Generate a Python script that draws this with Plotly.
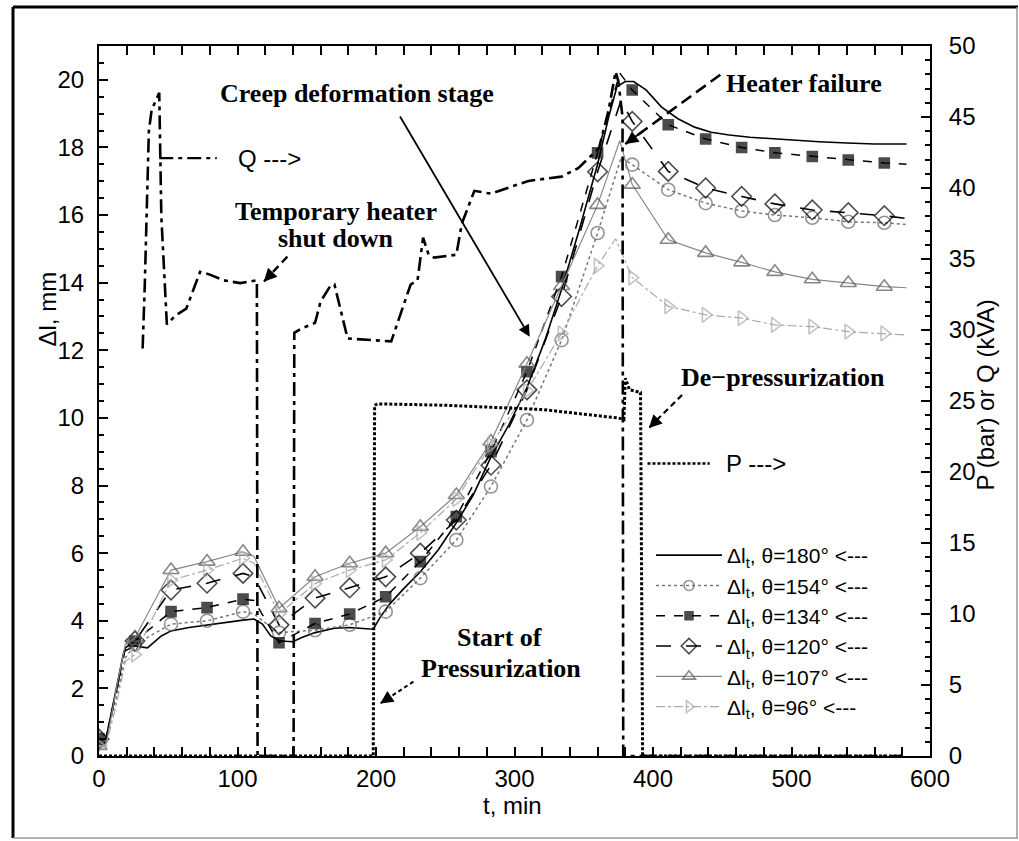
import plotly.graph_objects as go

# ---------------- data ----------------
T_180 = [0, 5, 12, 18, 26, 35, 45, 52, 65, 78, 92, 104, 112, 118, 124, 131, 140, 146, 156, 170,
         181, 190, 198, 203, 210, 220, 232, 245, 258, 270, 283, 296, 309, 322, 334, 347, 360,
         368, 374, 380, 386, 395, 406, 418, 430, 442, 455, 470, 488, 503, 520, 540, 560, 583]
V_180 = [0.45, 0.5, 1.9, 3.1, 3.25, 3.2, 3.55, 3.7, 3.8, 3.88, 3.95, 4.02, 4.05, 3.9, 3.55, 3.4,
         3.38, 3.5, 3.65, 3.78, 3.8, 3.77, 3.75, 4.1, 4.5, 4.95, 5.45, 6.1, 6.9, 7.7, 8.85, 9.8,
         10.9, 12.3, 13.8, 15.6, 17.5, 18.9, 19.8, 19.95, 19.95, 19.7, 19.2, 18.85, 18.6, 18.45,
         18.37, 18.3, 18.25, 18.2, 18.17, 18.13, 18.1, 18.1]

# marker sample times (shared by the marked series)
T_MK = [0, 26, 52, 78, 104, 130, 156, 181, 207, 232, 258, 283, 309, 334, 360, 385, 411, 438,
        464, 488, 515, 541, 567]
V_154 = [0.5, 3.3, 3.9, 4.0, 4.27, 3.65, 3.72, 3.88, 4.27, 5.26, 6.39, 7.97, 9.94, 12.3, 15.47,
         17.49, 16.75, 16.35, 16.12, 16.0, 15.92, 15.8, 15.77]
V_134 = [0.5, 3.4, 4.27, 4.39, 4.64, 3.35, 3.92, 4.2, 4.71, 5.75, 7.08, 9.0, 11.37, 14.18, 17.84,
         19.7, 18.67, 18.25, 18.0, 17.84, 17.73, 17.63, 17.54]
V_120 = [0.5, 3.4, 4.91, 5.11, 5.4, 3.88, 4.67, 4.97, 5.3, 6.0, 6.98, 8.6, 10.83, 13.59, 17.28,
         18.77, 17.29, 16.8, 16.55, 16.33, 16.15, 16.07, 15.98]
V_107 = [0.3, 3.5, 5.5, 5.75, 6.04, 4.37, 5.3, 5.7, 6.0, 6.78, 7.72, 9.3, 11.6, 13.9, 16.3,
         16.9, 15.27, 14.88, 14.6, 14.32, 14.1, 13.99, 13.88]
V_96 = [0.3, 3.0, 5.2, 5.5, 5.85, 4.2, 5.1, 5.5, 5.8, 6.6, 7.6, 9.2, 10.8, 12.5, 14.5,
        14.15, 13.3, 13.05, 12.95, 12.75, 12.7, 12.55, 12.5]

# extra line-only points (between markers)
T_EX_154 = [5, 13, 19, 112, 118, 377, 583]
V_EX_154 = [0.5, 1.8, 2.9, 4.2, 4.0, 17.7, 15.72]
T_EX_134 = [5, 13, 19, 112, 376, 583]
V_EX_134 = [0.5, 2.0, 3.2, 4.6, 20.2, 17.5]
T_EX_120 = [5, 13, 19, 112, 377, 583]
V_EX_120 = [0.5, 2.0, 3.2, 5.3, 19.4, 15.9]
T_EX_107 = [5, 13, 19, 112, 376, 583]
V_EX_107 = [0.3, 2.1, 3.3, 5.9, 18.2, 13.85]
T_EX_96 = [5, 13, 19, 112, 373, 583]
V_EX_96 = [0.3, 1.6, 2.8, 5.7, 15.3, 12.45]

# heater power Q (kVA) and pressure P (bar), right axis
T_Q = [31.5, 33, 36, 38, 43.5, 45, 49, 55, 63, 73, 80, 90, 102, 114, 114.5, 140.5, 141, 146, 156,
       160, 167, 170, 179.5, 211, 225, 230, 234, 238, 242, 258, 262, 271, 283, 295, 310, 334, 346,
       361, 368, 373, 375, 378, 378.5, 580]
V_Q = [28.7, 33, 44, 45.5, 46.7, 38, 30.4, 31.0, 31.5, 34.1, 33.9, 33.5, 33.3, 33.5, 0, 0, 29.8,
       30.1, 30.5, 32, 33.1, 33.2, 29.4, 29.2, 33.2, 33.5, 36.5, 35.3, 35.1, 35.3, 37.5, 39.8, 39.6,
       40.0, 40.5, 40.8, 41.4, 42.8, 45.5, 48.2, 47.5, 45, 0, 0]
T_P = [0, 198, 199, 201, 250, 320, 375, 379, 380, 383, 391, 392.5, 580]
V_P = [0, 0, 24.7, 24.8, 24.7, 24.4, 23.8, 23.7, 26.6, 25.8, 25.6, 0, 0]

X_TICKS = [0, 100, 200, 300, 400, 500, 600]
Y_TICKS = [0, 2, 4, 6, 8, 10, 12, 14, 16, 18, 20]
Y2_TICKS = [0, 5, 10, 15, 20, 25, 30, 35, 40, 45, 50]

LEG = ["Δl<sub>t</sub>, θ=180° <---", "Δl<sub>t</sub>, θ=154° <---", "Δl<sub>t</sub>, θ=134° <---",
       "Δl<sub>t</sub>, θ=120° <---", "Δl<sub>t</sub>, θ=107° <---", "Δl<sub>t</sub>, θ=96° <---"]

# ---------------- figure ----------------
W, H = 1019, 841
L, R, T, B = 99, 89, 46, 85
PW, PH = W - L - R, H - T - B


def px(x):
    return (x - L) / PW


def py(y):
    return (H - B - y) / PH


SANS = "Liberation Sans"
SERIF = "Liberation Serif"

fig = go.Figure()


def merged(tm, vm, te, ve, size):
    pts = [(t, v, size) for t, v in zip(tm, vm)] + [(t, v, 0) for t, v in zip(te, ve)]
    pts.sort(key=lambda p: p[0])
    return [p[0] for p in pts], [p[1] for p in pts], [p[2] for p in pts]


# Q and P first (under the data curves)
fig.add_trace(go.Scatter(x=T_Q, y=V_Q, yaxis="y2", mode="lines", showlegend=False,
                         line=dict(color="black", width=2.6, dash="14px,5px,4px,5px")))
fig.add_trace(go.Scatter(x=T_P, y=V_P, yaxis="y2", mode="lines", showlegend=False,
                         line=dict(color="black", width=3, dash="3px,2px")))

fig.add_trace(go.Scatter(x=T_180, y=V_180, mode="lines", name=LEG[0],
                         line=dict(color="black", width=1.6)))

series = [
    (V_154, T_EX_154, V_EX_154, LEG[1], "circle-open", 13, "#666666",
     dict(color="#777777", width=1.5, dash="dot")),
    (V_134, T_EX_134, V_EX_134, LEG[2], "square", 10, "black",
     dict(color="black", width=1.5, dash="dash")),
    (V_120, T_EX_120, V_EX_120, LEG[3], "diamond-open", 15, "black",
     dict(color="black", width=1.6, dash="longdash")),
    (V_107, T_EX_107, V_EX_107, LEG[4], "triangle-up-open", 14, "#555555",
     dict(color="#888888", width=1.2)),
    (V_96, T_EX_96, V_EX_96, LEG[5], "triangle-right-open", 13, "#aaaaaa",
     dict(color="#aaaaaa", width=1.2, dash="dashdot")),
]
for vm, te, ve, name, sym, sz, mc, ln in series:
    xs, ys, ss = merged(T_MK, vm, te, ve, sz)
    fig.add_trace(go.Scatter(x=xs, y=ys, mode="lines+markers", name=name, line=ln,
                             marker=dict(symbol=sym, size=ss, color=mc,
                                         line=dict(color=mc, width=1.6))))

# ---------------- annotations ----------------
ann = []
shapes = []
BSIZE = 26


def bold(text, x, y, xanchor="center", size=BSIZE):
    ann.append(dict(text="<b>" + text + "</b>", x=x, y=y, xref="x", yref="y", showarrow=False,
                    xanchor=xanchor, yanchor="middle",
                    font=dict(family=SERIF, size=size, color="black")))


def dashed_arrow(x0, y0, x1, y1, width=2.4, dash="8px,5px"):
    shapes.append(dict(type="line", xref="x", yref="y", x0=x0, y0=y0, x1=x1, y1=y1,
                       line=dict(color="black", width=width, dash=dash)))
    ann.append(dict(text="", x=x1, y=y1, ax=x1 + (x0 - x1) * 0.2, ay=y1 + (y0 - y1) * 0.2,
                    xref="x", yref="y", axref="x", ayref="y", showarrow=True,
                    arrowhead=2, arrowsize=1.3, arrowwidth=2, arrowcolor="black"))


bold("Creep deformation stage", 186, 19.6)
ann.append(dict(text="", x=311, y=12.4, ax=216.7, ay=18.96, xref="x", yref="y", axref="x",
                ayref="y", showarrow=True, arrowhead=2, arrowsize=1.3, arrowwidth=1.8,
                arrowcolor="black"))
bold("Heater failure", 509, 19.9)
dashed_arrow(448.6, 20.15, 380, 18.1, width=2.6, dash="12px,6px")
bold("Temporary heater", 171, 16.1)
bold("shut down", 171, 15.3)
dashed_arrow(136, 14.77, 119, 14.03)
bold("Start of", 289, 3.5)
bold("Pressurization", 290, 2.6)
dashed_arrow(227, 2.2, 203, 1.55, width=2, dash="4px,3px")
bold("De−pressurization", 493.5, 11.2)
dashed_arrow(421, 10.68, 397, 9.7, width=2.2, dash="6px,4px")

# Q ---> and P ---> labels with line samples
shapes.append(dict(type="line", xref="x", yref="y2", x0=43.5, x1=85, y0=42.1, y1=42.1,
                   line=dict(color="black", width=2.2, dash="14px,5px,4px,5px")))
ann.append(dict(text="Q --->", x=98.6, y=42.1, xref="x", yref="y2", showarrow=False,
                xanchor="left", yanchor="middle", font=dict(family=SANS, size=24, color="black")))
shapes.append(dict(type="line", xref="x", yref="y2", x0=396, x1=441, y0=20.6, y1=20.6,
                   line=dict(color="black", width=2.5, dash="3px,2px")))
ann.append(dict(text="P --->", x=451, y=20.6, xref="x", yref="y2", showarrow=False,
                xanchor="left", yanchor="middle", font=dict(family=SANS, size=24, color="black")))

# axis titles
ann.append(dict(text="Δl, mm", x=px(32), y=py(309), xref="paper", yref="paper", showarrow=False,
                textangle=-90, font=dict(family=SANS, size=24, color="black")))
ann.append(dict(text="P (bar) or Q (kVA)", x=px(1000), y=py(395), xref="paper", yref="paper",
                showarrow=False, textangle=-90, font=dict(family=SANS, size=24, color="black")))
ann.append(dict(text="t, min", x=px(512), y=py(821), xref="paper", yref="paper",
                showarrow=False, font=dict(family=SANS, size=24, color="black")))

# outer frame
shapes += [
    dict(type="line", xref="paper", yref="paper", x0=px(13), x1=px(1018), y0=py(7), y1=py(7),
         line=dict(color="black", width=3)),
    dict(type="line", xref="paper", yref="paper", x0=px(13), x1=px(13), y0=py(7), y1=py(838),
         line=dict(color="black", width=3)),
    dict(type="line", xref="paper", yref="paper", x0=px(1017), x1=px(1017), y0=py(7), y1=py(838),
         line=dict(color="#999999", width=1.5)),
    dict(type="line", xref="paper", yref="paper", x0=px(13), x1=px(1018), y0=py(838), y1=py(838),
         line=dict(color="#999999", width=1.5)),
]

axis_common = dict(showgrid=False, zeroline=False, showline=True, linecolor="black", linewidth=2,
                   ticks="inside", tickcolor="black", tickwidth=1.5,
                   tickfont=dict(family=SANS, size=24, color="black"))

fig.update_layout(
    width=W, height=H, margin=dict(l=L, r=R, t=T, b=B),
    paper_bgcolor="white", plot_bgcolor="white",
    xaxis=dict(range=[0, 600], tickvals=X_TICKS, ticklen=9, mirror="allticks",
               minor=dict(dtick=20, ticklen=5, ticks="inside", tickcolor="black"),
               ticklabelstandoff=0, **axis_common),
    yaxis=dict(range=[0, 21], tickvals=Y_TICKS, ticklen=9,
               minor=dict(dtick=0.5, ticklen=5, ticks="inside", tickcolor="black"),
               ticklabelstandoff=8, **axis_common),
    yaxis2=dict(range=[0, 50], tickvals=Y2_TICKS, ticklen=9, overlaying="y", side="right",
                minor=dict(dtick=1, ticklen=5, ticks="inside", tickcolor="black"),
                ticklabelstandoff=12, **axis_common),
    legend=dict(x=px(651), y=py(535), xanchor="left", yanchor="top", bgcolor="rgba(0,0,0,0)",
                font=dict(family=SANS, size=21, color="black"), itemwidth=66,
                tracegroupgap=0),
    annotations=ann, shapes=shapes,
)

fig.write_html("out.html")
